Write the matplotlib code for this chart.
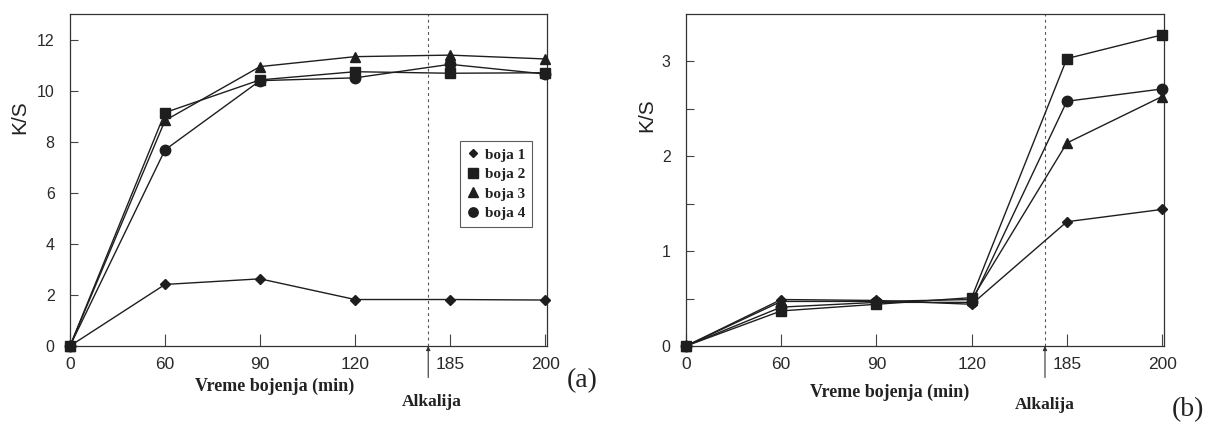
import matplotlib
matplotlib.use("Agg")
import matplotlib.pyplot as plt
import numpy as np
from matplotlib.lines import Line2D

# ---- data ----
time_labels = ['0', '60', '90', '120', '185', '200']
series_names = ['boja 1', 'boja 2', 'boja 3', 'boja 4']

a_boja1 = [0.0, 2.41, 2.63, 1.82, 1.82, 1.80]
a_boja2 = [0.0, 9.14, 10.42, 10.74, 10.68, 10.70]
a_boja3 = [0.0, 8.83, 10.94, 11.33, 11.39, 11.24]
a_boja4 = [0.0, 7.68, 10.39, 10.50, 11.03, 10.65]

b_boja1 = [0.0, 0.49, 0.48, 0.44, 1.31, 1.44]
b_boja2 = [0.0, 0.37, 0.44, 0.51, 3.03, 3.28]
b_boja3 = [0.0, 0.47, 0.47, 0.49, 2.14, 2.63]
b_boja4 = [0.0, 0.41, 0.46, 0.46, 2.58, 2.71]

alkali_pos = 3.77  # between 120 and 185 on the category axis

markers = ['D', 's', '^', 'o']
msizes = [5, 7.5, 7.5, 7.5]
ink = '#1e1e1e'

sans = ['Liberation Sans', 'DejaVu Sans']
serif = ['Liberation Serif', 'DejaVu Serif']

fig = plt.figure(figsize=(12.2, 4.24), dpi=100)
fig.patch.set_facecolor('white')

ax_a = fig.add_axes([70/1220, 1-346/424, 477/1220, 332/424])
ax_b = fig.add_axes([686/1220, 1-346/424, 478/1220, 332/424])

x = np.arange(len(time_labels))

def style(ax, ymax, major, minor):
    ax.set_xlim(0, 5.02)
    ax.set_ylim(0, ymax)
    ax.set_xticks(x)
    ax.set_xticklabels(time_labels, fontfamily=sans, fontsize=12.5, color='#2a2a2a')
    ax.set_yticks(major)
    ax.set_yticklabels([f'{v:g}' for v in major], fontfamily=sans, fontsize=11.5, color='#2a2a2a')
    if minor is not None:
        ax.set_yticks(minor, minor=True)
    ax.tick_params(axis='x', direction='in', length=9, width=0.8, pad=8, color='#444')
    ax.tick_params(axis='y', which='both', direction='in', length=6, width=0.8, pad=11, color='#444')
    for s in ax.spines.values():
        s.set_linewidth(0.9)
        s.set_color('#333')
    ax.axvline(alkali_pos, color='#555', lw=0.8, ls=(0, (2.5, 3)))

def draw(ax, data):
    for vals, m, ms in zip(data, markers, msizes):
        ax.plot(x, vals, color=ink, lw=1.0, marker=m, ms=ms, mfc=ink, mec=ink,
                clip_on=False, zorder=3)

draw(ax_a, [a_boja1, a_boja2, a_boja3, a_boja4])
draw(ax_b, [b_boja1, b_boja2, b_boja3, b_boja4])

style(ax_a, 13.0, [0, 2, 4, 6, 8, 10, 12], None)
style(ax_b, 3.5, [0, 1, 2, 3], [0.5, 1.5, 2.5])

for ax, ylab, xlab, alk, tag in [
        (ax_a, (-0.085, 0.69), (0.428, -0.123), (0.759, -0.169), (582, 381)),
        (ax_b, (-0.062, 0.695), (0.425, -0.139), (0.751, -0.178), (1188, 410))]:
    ax.set_ylabel('K/S', fontfamily=sans, fontsize=15, color='#222')
    ax.yaxis.set_label_coords(*ylab)
    ax.text(xlab[0], xlab[1], 'Vreme bojenja (min)', transform=ax.transAxes,
            ha='center', va='center', fontfamily=serif, fontweight='bold',
            fontsize=13, color='#222')
    ax.text(alk[0], alk[1], 'Alkalija', transform=ax.transAxes,
            ha='center', va='center', fontfamily=serif, fontweight='bold',
            fontsize=12.5, color='#222')
    ax.annotate('', xy=(alkali_pos, 0), xycoords=('data', 'axes fraction'),
                xytext=(alkali_pos, -0.095), textcoords=('data', 'axes fraction'),
                arrowprops=dict(arrowstyle='-|>', lw=0.8, color='#333',
                                mutation_scale=6, shrinkA=0, shrinkB=0),
                annotation_clip=False)
    fig.text(tag[0]/1220, 1-tag[1]/424, '(a)' if ax is ax_a else '(b)',
             ha='center', va='center', fontfamily=serif, fontsize=20, color='#222')

handles = [Line2D([], [], ls='none', marker=m, ms=ms * 0.9, color=ink)
           for m, ms in zip(markers, msizes)]
leg = ax_a.legend(handles, series_names, loc='upper left',
                  bbox_to_anchor=(0.818, 0.617), frameon=True, fancybox=False,
                  prop={'family': serif, 'weight': 'bold', 'size': 11},
                  handlelength=0.8, handletextpad=0.35, labelspacing=0.38,
                  borderpad=0.45, borderaxespad=0)
leg.get_frame().set_edgecolor('#333')
leg.get_frame().set_linewidth(0.8)
for t in leg.get_texts():
    t.set_color('#222')

fig.savefig('out.png', dpi=100, facecolor='white')
